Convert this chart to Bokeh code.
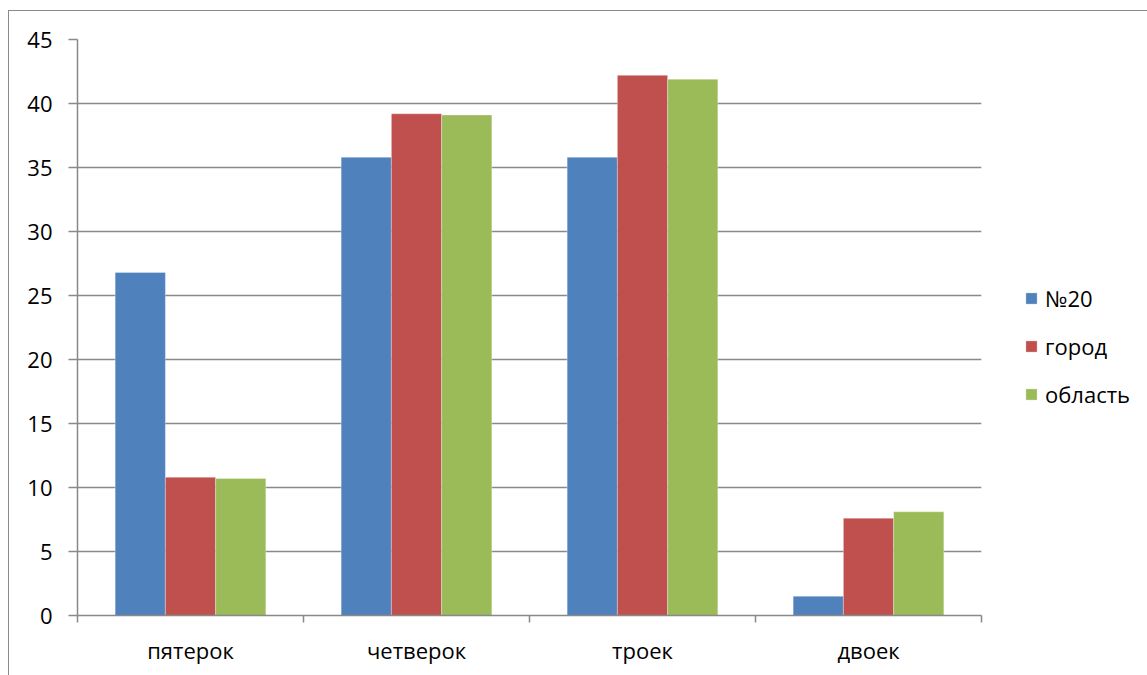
from bokeh.plotting import figure
from bokeh.models import Range1d, FixedTicker, Legend, LegendItem, ColumnDataSource
from bokeh.transform import dodge
from bokeh.embed import file_html
from bokeh.resources import INLINE

categories = ["пятерок", "четверок", "троек", "двоек"]
series_names = ["№20", "город", "область"]
school_20 = [26.8, 35.8, 35.8, 1.5]
city = [10.8, 39.2, 42.2, 7.6]
region = [10.7, 39.1, 41.9, 8.1]
y_ticks = [0, 5, 10, 15, 20, 25, 30, 35, 40, 45]
colors = ["#4F81BD", "#C0504D", "#9BBB59"]

FONT = "Open Sans"
GRAY = "#898989"

x_center = [i + 0.5 for i in range(len(categories))]
boundaries = [float(i) for i in range(len(categories) + 1)]
source = ColumnDataSource(dict(x=x_center, s0=school_20, s1=city, s2=region))

p = figure(
    frame_width=904, frame_height=576,
    min_border_left=68, min_border_right=149, min_border_top=28, min_border_bottom=60,
    x_range=Range1d(0, len(categories)), y_range=Range1d(0, 45),
    output_backend="svg", toolbar_location=None,
)
p.styles = {"border-left": "1.5px solid #8a8a8a", "border-top": "1.5px solid #8a8a8a",
            "margin-top": "10px", "margin-left": "8px"}
p.outline_line_color = None
p.background_fill_color = "white"
p.border_fill_color = "white"

bw = 1 / 4.5
renderers = []
for k, col in enumerate(["s0", "s1", "s2"]):
    r = p.vbar(x=dodge("x", (k - 1) * bw, range=p.x_range), top=col, width=bw, bottom=0,
               source=source, fill_color=colors[k], line_color="white", line_width=0.6, line_alpha=0.5)
    renderers.append(r)

# x axis
xa = p.xaxis[0]
xa.ticker = FixedTicker(ticks=x_center, minor_ticks=boundaries)
xa.major_label_overrides = {x: c for x, c in zip(x_center, categories)}
xa.major_tick_line_color = None
xa.major_tick_out = 0
xa.major_tick_in = 0
xa.minor_tick_out = 7
xa.minor_tick_in = 0
xa.minor_tick_line_color = GRAY
xa.minor_tick_line_width = 1.5
xa.axis_line_color = GRAY
xa.axis_line_width = 1.5
xa.major_label_standoff = 12
xa.major_label_text_font = FONT
xa.major_label_text_font_size = "22px"
xa.major_label_text_color = "black"

ya = p.yaxis[0]
ya.ticker = FixedTicker(ticks=y_ticks)
ya.major_tick_out = 9
ya.major_tick_in = 0
ya.minor_tick_line_color = None
ya.major_tick_line_color = GRAY
ya.major_tick_line_width = 1.5
ya.axis_line_color = GRAY
ya.axis_line_width = 1.5
ya.major_label_standoff = 16
ya.major_label_text_font = FONT
ya.major_label_text_font_size = "22px"
ya.major_label_text_color = "black"

p.xgrid.visible = False
p.ygrid.ticker = FixedTicker(ticks=y_ticks)
p.ygrid.grid_line_color = GRAY
p.ygrid.grid_line_width = 1.5

legend = Legend(
    items=[LegendItem(label=n, renderers=[r]) for n, r in zip(series_names, renderers)],
    location=(43, 206),
    glyph_width=14, glyph_height=14, label_height=14, spacing=18,
    label_standoff=7, padding=0, margin=0,
    border_line_color=None, background_fill_alpha=0,
    label_text_font=FONT, label_text_font_size="22px", label_text_color="black",
)
p.add_layout(legend, "right")

open("out.html", "w").write(file_html(p, INLINE))
